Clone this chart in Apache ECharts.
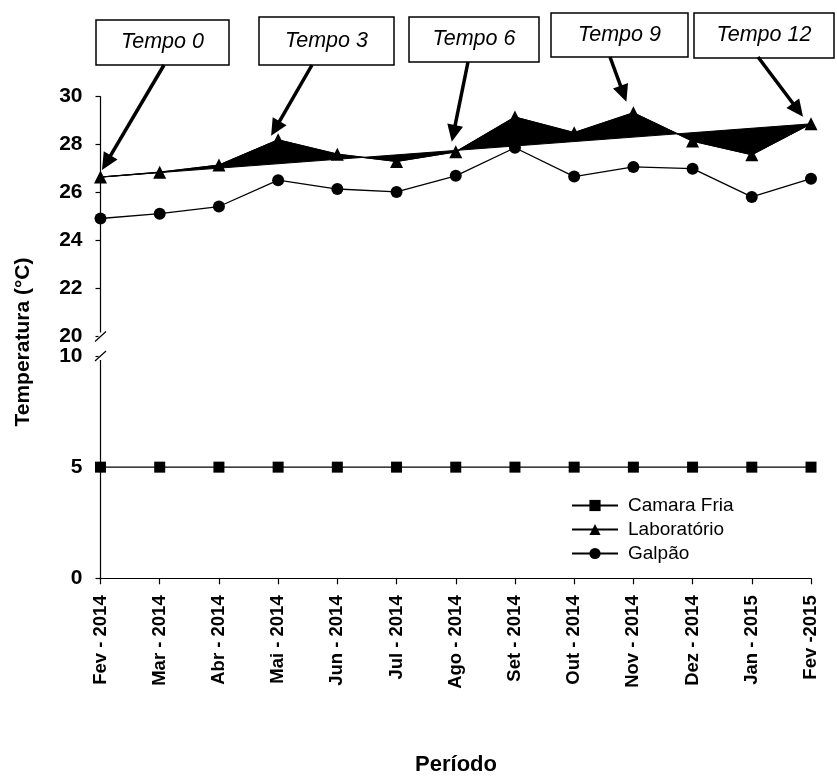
<!DOCTYPE html>
<html>
<head>
<meta charset="utf-8">
<script src="https://cdn.jsdelivr.net/npm/echarts@6/dist/echarts.min.js"></script>
<style>
    html, body { margin: 0; padding: 0; background: #fff; }
    #chart { width: 837px; height: 778px; }
</style>
</head>
<body>
<div id="chart"></div>
<script>
// dados
const periodos = ['Fev - 2014', 'Mar - 2014', 'Abr - 2014', 'Mai - 2014', 'Jun - 2014', 'Jul - 2014',
    'Ago - 2014', 'Set - 2014', 'Out - 2014', 'Nov - 2014', 'Dez - 2014', 'Jan - 2015', 'Fev -2015'];
const camaraFria = [5, 5, 5, 5, 5, 5, 5, 5, 5, 5, 5, 5, 5];
const laboratorio = [26.65, 26.85, 27.15, 28.2, 27.6, 27.3, 27.7, 29.15, 28.5, 29.33, 28.15, 27.58, 28.87];
const galpao = [24.92, 25.12, 25.42, 26.52, 26.15, 26.03, 26.7, 27.87, 26.67, 27.07, 27.0, 25.82, 26.58];
const tempos = ['Tempo 0', 'Tempo 3', 'Tempo 6', 'Tempo 9', 'Tempo 12'];
const temposIdx = [0, 3, 6, 9, 12];

// caixas das chamadas (x, y, largura, altura), ponta da seta relativa ao ponto
const caixas = [[96, 20, 133, 45], [259, 17, 135, 48], [409, 17, 130, 45], [551, 13, 137, 44], [694, 13, 140, 45]];
const caudas = [[164, 65], [312, 65], [468, 62], [610, 57], [758, 57]];
const pontas = [[1.5, -7], [-7, -4], [-4, -10], [-7, -11], [-8, -7]];

const FONTE = '"Liberation Sans", Arial, sans-serif';
const chart = echarts.init(document.getElementById('chart'));

const eixoY = {
    type: 'value',
    axisLine: { show: true, lineStyle: { color: '#000', width: 1.2 } },
    axisTick: { show: true, length: 5, lineStyle: { color: '#000', width: 1.2 } },
    axisLabel: { color: '#000', fontSize: 21, fontWeight: 'bold', fontFamily: FONTE, margin: 18 },
    splitLine: { show: false }
};

chart.setOption({
    animation: false,
    backgroundColor: '#fff',
    grid: [
        { left: 100.5, right: 26, top: 96.7, height: 239.8 },
        { left: 100.5, right: 26, top: 356, height: 222.3 }
    ],
    xAxis: [
        { type: 'category', gridIndex: 0, data: periodos, boundaryGap: false, show: false },
        {
            type: 'category', gridIndex: 1, data: periodos, boundaryGap: false,
            axisLine: { lineStyle: { color: '#000', width: 1.2 } },
            axisTick: { length: 6, lineStyle: { color: '#000', width: 1.2 } },
            axisLabel: {
                rotate: 90, interval: 0, margin: 17, color: '#000',
                fontSize: 18.5, fontWeight: 'bold', fontFamily: FONTE
            }
        }
    ],
    yAxis: [
        Object.assign({}, eixoY, { gridIndex: 0, min: 20, max: 30, interval: 2 }),
        Object.assign({}, eixoY, { gridIndex: 1, min: 0, max: 10, interval: 5 })
    ],
    legend: {
        orient: 'vertical', left: 571, top: 496, padding: 0,
        itemWidth: 46, itemHeight: 14, itemGap: 5,
        data: ['Camara Fria', 'Laboratório', 'Galpão'],
        textStyle: { color: '#000', fontSize: 19, fontFamily: FONTE, padding: [0, 0, 0, 5] }
    },
    series: [
        {
            // área preta entre a curva do laboratório e a reta Tempo 0 -> Tempo 12
            type: 'custom', xAxisIndex: 0, yAxisIndex: 0, data: [0], z: 1, silent: true,
            renderItem: function (params, api) {
                const pts = laboratorio.map((v, i) => api.coord([i, v]));
                return { type: 'polygon', shape: { points: pts }, style: { fill: '#000', stroke: '#000', lineWidth: 1 } };
            }
        },
        {
            name: 'Camara Fria', type: 'line', xAxisIndex: 1, yAxisIndex: 1, data: camaraFria,
            symbol: 'rect', symbolSize: 11, z: 3,
            lineStyle: { color: '#000', width: 1.3 }, itemStyle: { color: '#000' }
        },
        {
            name: 'Laboratório', type: 'line', xAxisIndex: 0, yAxisIndex: 0, data: laboratorio,
            symbol: 'triangle', symbolSize: 13, z: 3,
            lineStyle: { color: '#000', width: 1.3 }, itemStyle: { color: '#000' }
        },
        {
            name: 'Galpão', type: 'line', xAxisIndex: 0, yAxisIndex: 0, data: galpao,
            symbol: 'circle', symbolSize: 12, z: 3,
            lineStyle: { color: '#000', width: 1.3 }, itemStyle: { color: '#000' }
        }
    ]
});

// anotações: títulos, quebras do eixo, caixas e setas
function desenharAnotacoes() {
    const g = [];
    const p20 = chart.convertToPixel({ xAxisIndex: 0, yAxisIndex: 0 }, [0, 20]);
    const p10 = chart.convertToPixel({ xAxisIndex: 1, yAxisIndex: 1 }, [0, 10]);
    [p20, p10].forEach(p => {
        g.push({ type: 'rect', shape: { x: p[0] - 2, y: p[1] - 4, width: 4, height: 8 }, style: { fill: '#fff' }, z: 50 });
        g.push({ type: 'line', shape: { x1: p[0] - 5.5, y1: p[1] + 5, x2: p[0] + 5.5, y2: p[1] - 5 }, style: { stroke: '#000', lineWidth: 1.2 }, z: 51 });
    });

    g.push({
        type: 'text', x: 23, y: 342, rotation: Math.PI / 2,
        style: { text: 'Temperatura (°C)', fill: '#000', font: 'bold 21px ' + FONTE, align: 'center', verticalAlign: 'middle' }
    });
    g.push({
        type: 'text', x: 456, y: 765,
        style: { text: 'Período', fill: '#000', font: 'bold 22px ' + FONTE, align: 'center', verticalAlign: 'middle' }
    });

    tempos.forEach((t, k) => {
        const c = caixas[k];
        g.push({ type: 'rect', shape: { x: c[0], y: c[1], width: c[2], height: c[3] }, style: { fill: '#fff', stroke: '#000', lineWidth: 1.5 }, z: 60 });
        g.push({
            type: 'text', x: c[0] + c[2] / 2, y: c[1] + c[3] / 2, z: 61,
            style: { text: t, fill: '#000', font: 'italic 21.5px ' + FONTE, align: 'center', verticalAlign: 'middle' }
        });
        const i = temposIdx[k];
        const p = chart.convertToPixel({ xAxisIndex: 0, yAxisIndex: 0 }, [i, laboratorio[i]]);
        const tip = [p[0] + pontas[k][0], p[1] + pontas[k][1]];
        const tail = caudas[k];
        const dx = tip[0] - tail[0], dy = tip[1] - tail[1];
        const len = Math.sqrt(dx * dx + dy * dy);
        const ux = dx / len, uy = dy / len;
        const hl = 17, hw = 8;
        const bx = tip[0] - ux * hl, by = tip[1] - uy * hl;
        g.push({ type: 'line', shape: { x1: tail[0], y1: tail[1], x2: bx + ux * 2, y2: by + uy * 2 }, style: { stroke: '#000', lineWidth: 3.5 }, z: 60 });
        g.push({
            type: 'polygon', z: 60,
            shape: { points: [tip, [bx - uy * hw, by + ux * hw], [bx + uy * hw, by - ux * hw]] },
            style: { fill: '#000' }
        });
    });
    chart.setOption({ graphic: g });
}

desenharAnotacoes();
</script>
</body>
</html>
